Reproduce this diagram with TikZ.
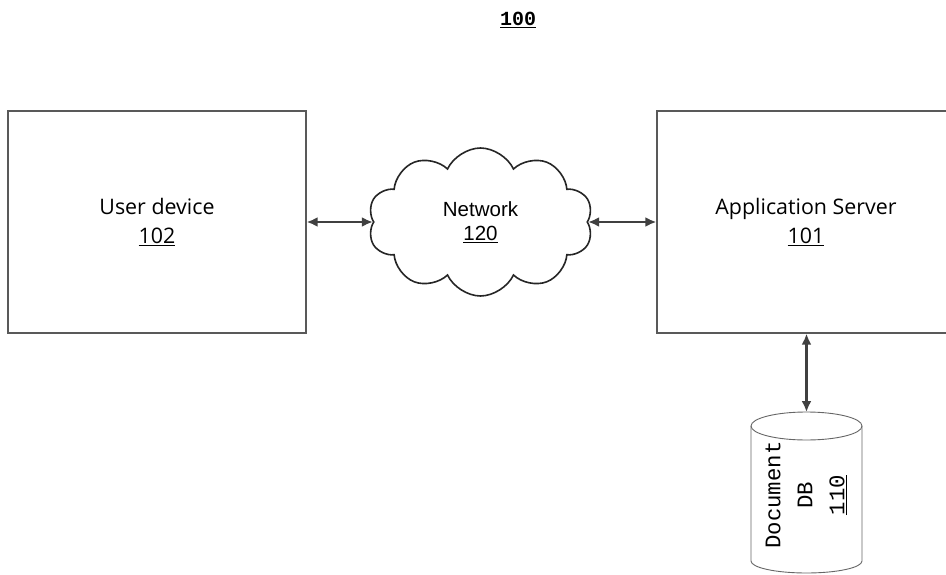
\documentclass[tikz,border=0pt]{standalone}
\usepackage{fontspec}
\setmainfont{Open Sans}
\newfontfamily\arialf{Liberation Sans}
\newfontfamily\monof{Liberation Mono}
\usetikzlibrary{shapes.symbols,arrows.meta}
\begin{document}
\begin{tikzpicture}[x=1pt,y=-1pt,
  box/.style={draw=black!65, line width=1.3pt, minimum width=298pt, minimum height=222pt, inner sep=0pt, align=center, font=\fontsize{21.4}{29}\selectfont},
  netcloud/.style={cloud, cloud puffs=10, cloud puff arc=130, aspect=1.5, draw=black!85, line width=1.6pt, minimum width=225pt, minimum height=148pt, inner sep=0pt, align=center, font=\arialf\fontsize{20.5}{24}\selectfont},
  link/.style={{Latex[length=11pt,width=10pt]}-{Latex[length=11pt,width=10pt]}, line width=2.2pt, draw=black!75},
  dbline/.style={draw=black!60, line width=0.9pt},
  dbtext/.style={rotate=90, align=center, inner sep=0pt, font=\monof\fontsize{22.3}{32}\selectfont},
  titletext/.style={font=\monof\bfseries\fontsize{20}{24}\selectfont}
]
\clip (0,0) rectangle (946,575);
\fill[white] (0,0) rectangle (946,575);

\node[titletext] (title) at (518,20) {\underline{100}};

\node[box] (ud) at (157,222) {User device\\\underline{102}};
\node[box] (as) at (806,222) {Application Server\\\underline{101}};
\node[netcloud] (net) at (480.5,222) {Network\\\underline{120}};

% Document DB cylinder
\coordinate (dbtop) at (806.5,412);
\draw[dbline] (751,426) -- (751,561) arc[start angle=180,end angle=0,x radius=55.5,y radius=12] -- (862,426) arc[start angle=0,end angle=-180,x radius=55.5,y radius=14] -- cycle;
\draw[dbline] (751,426) arc[start angle=180,end angle=0,x radius=55.5,y radius=14];
\node[dbtext] (db) at (806,495) {Document\\DB\\\underline{110}};

\draw[link] (ud.east) -- (ud.east -| net.west);
\draw[link] (net.east) -- (net.east -| as.west);
\draw[link] (as.south -| dbtop) -- (dbtop);
\end{tikzpicture}
\end{document}
